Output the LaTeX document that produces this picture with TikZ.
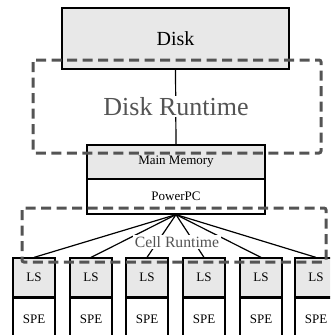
\documentclass[tikz,border=0pt]{standalone}
\usepackage{fontspec}
\setmainfont{Liberation Serif}
\begin{document}
\begin{tikzpicture}[x=1pt,y=-1pt,
  box/.style={draw=black,line width=1.2pt,inner sep=0pt,anchor=center},
  memfill/.style={fill=black!9},
  link/.style={draw=black,line width=1.2pt},
  runtime/.style={draw=black!67,line width=3pt,dash pattern=on 10pt off 5.5pt,rounded corners=2pt},
  rtlabel/.style={text=black!67,fill=white,inner sep=1.5pt}]
\useasboundingbox (0,0) rectangle (330,335);
\clip (0,0) rectangle (330,335);

% storage and host processor
\node[box,memfill,minimum width=227pt,minimum height=61pt,font=\fontsize{20}{22}\selectfont] (disk) at (175.5,38.5) {Disk};
\node[box,memfill,minimum width=178pt,minimum height=34pt,font=\fontsize{13}{15}\selectfont] (mem) at (176,162) {Main Memory};
\node[box,fill=white,minimum width=178pt,minimum height=35pt,font=\fontsize{13}{15}\selectfont] (ppc) at (176,196.5) {PowerPC};

% synergistic processing elements with their local stores
\foreach \i/\lx in {1/13,2/70,3/126,4/183,5/240,6/295}{
  \node[box,memfill,minimum width=42pt,minimum height=39pt,font=\fontsize{13}{15}\selectfont] (ls\i) at (\lx+21,277.5) {LS};
  \node[box,fill=white,minimum width=42pt,minimum height=63pt,font=\fontsize{13}{15}\selectfont,anchor=north] (spe\i) at (ls\i.south) {};
  \node[font=\fontsize{13}{15}\selectfont] at (\lx+21,319) {SPE};
}

% connections
\draw[link] (disk.south) -- (mem.north);
\foreach \i in {1,...,6}{
  \draw[link] (ppc.south) -- (ls\i.north);
}

% runtime labels
\node[rtlabel,font=\fontsize{26}{28}\selectfont] (diskrt) at (176,106.5) {Disk Runtime};
\node[rtlabel,font=\fontsize{15.7}{17}\selectfont] (cellrt) at (177,242) {Cell Runtime};

% runtime regions
\draw[runtime] (33,60) rectangle (321,153);
\draw[runtime] (22,208) rectangle (326,262);
\end{tikzpicture}
\end{document}
